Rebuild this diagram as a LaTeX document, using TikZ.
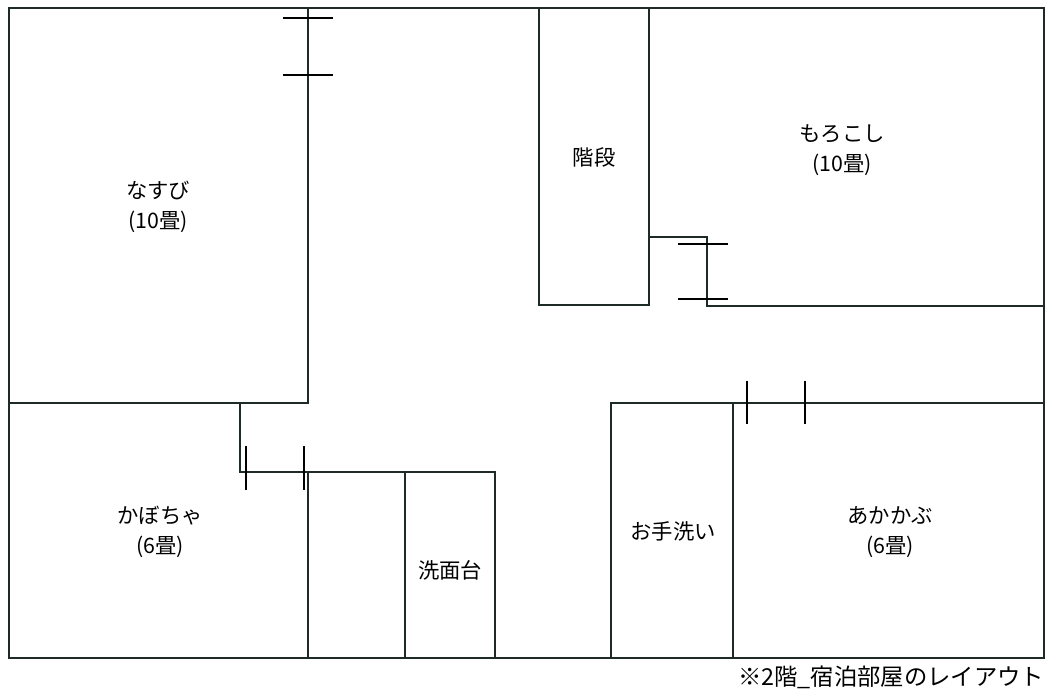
\documentclass[tikz,border=0pt]{standalone}
\usepackage{fontspec}
\setmainfont{Noto Sans CJK JP}
\definecolor{wallc}{HTML}{1E2A26}

\begin{document}
\begin{tikzpicture}[x=0.75pt, y=-0.75pt,
    wall/.style={draw=wallc, line width=1.6pt},
    tick/.style={draw=black, line width=1.6pt},
    room/.style={align=center, font=\fontsize{16}{22}\selectfont}]
    \useasboundingbox (0,0) rectangle (1056,694);

    % outer walls
    \draw[wall] (9,8) rectangle (1044,658);

    % nasubi
    \draw[wall] (308,8) -- (308,403) -- (9,403);
    \draw[tick] (283,18) -- (333,18);
    \draw[tick] (283,75) -- (333,75);

    % kabocha and washroom
    \draw[wall] (240,403) -- (240,472) -- (495,472) -- (495,658);
    \draw[wall] (308,472) -- (308,658);
    \draw[wall] (405,472) -- (405,658);
    \draw[tick] (246,446) -- (246,490);
    \draw[tick] (304,446) -- (304,490);

    % stairs
    \draw[wall] (539,8) -- (539,305) -- (649,305) -- (649,8);

    % morokoshi
    \draw[wall] (649,237) -- (707,237) -- (707,306) -- (1044,306);
    \draw[tick] (678,244) -- (728,244);
    \draw[tick] (678,299) -- (728,299);

    % toilet and akakabu
    \draw[wall] (611,658) -- (611,403) -- (1044,403);
    \draw[wall] (733,403) -- (733,658);
    \draw[tick] (747,381) -- (747,424);
    \draw[tick] (805,381) -- (805,424);

    % labels
    \node[room] (nasubi) at (158,207) {なすび\\(10畳)};
    \node[room] (kaidan) at (594,157) {階段};
    \node[room] (morokoshi) at (842,150) {もろこし\\(10畳)};
    \node[room] (kabocha) at (160,532) {かぼちゃ\\(6畳)};
    \node[room] (senmen) at (450,570) {洗面台};
    \node[room] (toilet) at (673,531) {お手洗い};
    \node[room] (akakabu) at (890,532) {あかかぶ\\(6畳)};
    \node[room, anchor=east, font=\fontsize{17.5}{22}\selectfont] (caption) at (1049,677) {※2階\_宿泊部屋のレイアウト};
\end{tikzpicture}
\end{document}
